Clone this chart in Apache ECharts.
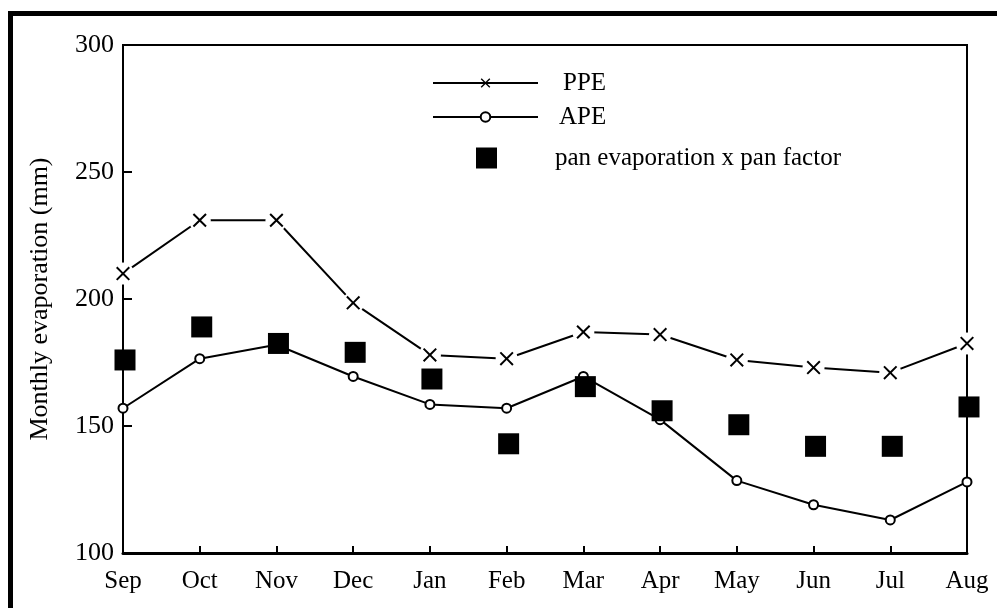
<!DOCTYPE html>
<html>
<head>
<meta charset="utf-8">
<script src="https://cdn.jsdelivr.net/npm/echarts@6/dist/echarts.min.js"></script>
<style>html,body{margin:0;padding:0;background:#fff;}#chart{width:997px;height:608px;}</style>
</head>
<body>
<div id="chart"></div>
<script>
const months = ['Sep','Oct','Nov','Dec','Jan','Feb','Mar','Apr','May','Jun','Jul','Aug'];
const ppe = [210, 231, 231, 198.5, 178, 176.5, 187, 186, 176, 173, 171, 182.5];
const ape = [157, 176.5, 182, 169.5, 158.5, 157, 169.5, 152.5, 128.5, 119, 113, 128];
const pan = [176, 189, 182.5, 179, 168.5, 143, 165.5, 156, 150.5, 142, 142, 157.5];
const yTicks = [100, 150, 200, 250, 300];

const FONT = '"Liberation Serif", "Times New Roman", serif';
const X_PATH = 'path://M0,1L1,0L5,4L9,0L10,1L6,5L10,9L9,10L5,6L1,10L0,9L4,5Z';

const chart = echarts.init(document.getElementById('chart'), null, {renderer: 'canvas'});
const legendBase = {
  orient: 'vertical', left: 432, itemWidth: 105, selectedMode: false, padding: 0,
  lineStyle: {width: 2, color: '#000'},
  textStyle: {fontFamily: FONT, fontSize: 25, color: '#000', lineHeight: 26}
};
chart.setOption({
  animation: false,
  backgroundColor: '#fff',
  grid: {left: 123, right: 30, top: 45, bottom: 55, show: true, borderColor: '#000', borderWidth: 2, backgroundColor: 'transparent'},
  graphic: [
    {type: 'rect', shape: {x: 8, y: 11, width: 989, height: 5}, style: {fill: '#000'}},
    {type: 'rect', shape: {x: 8, y: 11, width: 5, height: 597}, style: {fill: '#000'}}
  ],
  legend: [
    Object.assign({}, legendBase, {data: ['PPE'], top: 70, itemHeight: 12,
      textStyle: Object.assign({}, legendBase.textStyle, {padding: [0, 0, 0, 20]})}),
    Object.assign({}, legendBase, {data: ['APE'], top: 104, itemHeight: 12,
      textStyle: Object.assign({}, legendBase.textStyle, {padding: [0, 0, 0, 16]})}),
    Object.assign({}, legendBase, {data: ['pan evaporation x pan factor'], left: 476, top: 145,
      itemWidth: 21, itemHeight: 21,
      textStyle: Object.assign({}, legendBase.textStyle, {padding: [0, 0, 0, 53]})})
  ],
  xAxis: {
    type: 'category', data: months, boundaryGap: false,
    axisLine: {lineStyle: {color: '#000', width: 3}},
    axisTick: {inside: true, length: 7, lineStyle: {color: '#000', width: 2}},
    axisLabel: {fontFamily: FONT, fontSize: 25, color: '#000', margin: 16},
    splitLine: {show: false}
  },
  yAxis: {
    type: 'value', min: 100, max: 300, interval: 50,
    name: 'Monthly evaporation (mm)', nameLocation: 'middle', nameGap: 70,
    nameTextStyle: {fontFamily: FONT, fontSize: 26, color: '#000'},
    axisLine: {show: true, lineStyle: {color: '#000', width: 2}},
    axisTick: {show: true, inside: true, length: 9, lineStyle: {color: '#000', width: 2}},
    axisLabel: {fontFamily: FONT, fontSize: 26, color: '#000', margin: 9,
      formatter: v => yTicks.indexOf(v) >= 0 ? String(v) : ''},
    splitLine: {show: false}
  },
  series: [
    {name: 'PPE', type: 'line', data: ppe, symbol: X_PATH, symbolSize: 14,
      itemStyle: {color: '#000'}, lineStyle: {color: '#000', width: 2}, z: 2},
    {name: 'ppe-gap', type: 'scatter', data: ppe, symbol: 'circle', symbolSize: 22,
      itemStyle: {color: '#fff', opacity: 1}, z: 3, silent: true},
    {name: 'ppe-mark', type: 'scatter', data: ppe, symbol: X_PATH, symbolSize: 14,
      itemStyle: {color: '#000', opacity: 1}, z: 4, silent: true},
    {name: 'APE', type: 'line', data: ape, symbol: 'emptyCircle', symbolSize: 9,
      itemStyle: {color: '#000', borderWidth: 2}, lineStyle: {color: '#000', width: 2}, z: 5},
    {name: 'pan evaporation x pan factor', type: 'scatter', data: pan, symbol: 'rect', symbolSize: 21,
      symbolOffset: [2, 0], itemStyle: {color: '#000', opacity: 1}, z: 6}
  ]
});
</script>
</body>
</html>
